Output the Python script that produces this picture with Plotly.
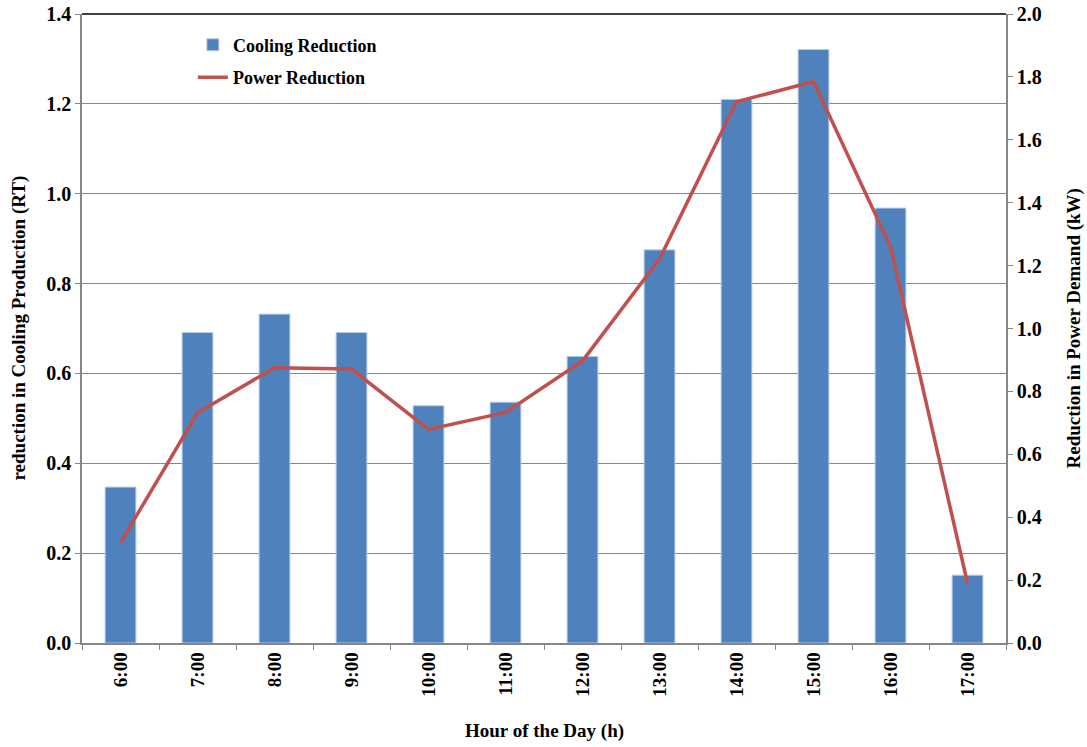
import plotly.graph_objects as go

hours = ["6:00", "7:00", "8:00", "9:00", "10:00", "11:00", "12:00",
         "13:00", "14:00", "15:00", "16:00", "17:00"]
cooling_reduction = [0.347, 0.691, 0.732, 0.691, 0.528, 0.536, 0.638,
                     0.875, 1.210, 1.321, 0.968, 0.151]
power_reduction = [0.319, 0.732, 0.875, 0.871, 0.679, 0.733, 0.897,
                   1.221, 1.721, 1.785, 1.260, 0.190]

FONT = "Liberation Serif"
AXIS_GRAY = "#868686"

fig = go.Figure()
fig.add_trace(go.Bar(
    x=hours, y=cooling_reduction, name="Cooling Reduction",
    marker=dict(color="#4F81BD", line=dict(color="#B9CDE5", width=1)),
    legendgroup="a", yaxis="y",
))
fig.add_trace(go.Scatter(
    x=hours, y=power_reduction, name="Power Reduction", mode="lines",
    line=dict(color="#C0504D", width=3.5),
    legendgroup="b", yaxis="y2",
))

ytickfont = dict(family=FONT, size=20, color="black", weight="bold")
xtickfont = dict(family=FONT, size=19, color="black", weight="bold")
titlefont = dict(family=FONT, size=19, color="black", weight="bold")

fig.update_layout(
    width=1087, height=747,
    margin=dict(l=82, r=81, t=14, b=104),
    paper_bgcolor="white", plot_bgcolor="white",
    bargap=0.6,
    showlegend=True,
    legend=dict(x=0.12, y=0.98, xanchor="left", yanchor="top",
                font=dict(family=FONT, size=18, color="black", weight="bold"),
                bgcolor="rgba(0,0,0,0)", tracegroupgap=6,
                traceorder="grouped"),
    xaxis=dict(
        type="category", tickangle=-90, tickfont=xtickfont,
        showline=True, linecolor=AXIS_GRAY, linewidth=1.5,
        ticks="outside", tickson="boundaries", ticklen=5, tickcolor=AXIS_GRAY,
        showgrid=False, automargin=False,
    ),
    yaxis=dict(
        range=[0, 1.4], dtick=0.2, tickformat=".1f", tickfont=ytickfont,
        showline=True, linecolor=AXIS_GRAY, linewidth=1.5,
        ticks="outside", ticklen=5, tickcolor=AXIS_GRAY,
        showgrid=True, gridcolor=AXIS_GRAY, gridwidth=1,
        zeroline=False, automargin=False,
    ),
    yaxis2=dict(
        range=[0, 2.0], dtick=0.2, tickformat=".1f", tickfont=ytickfont,
        overlaying="y", side="right",
        showline=True, linecolor=AXIS_GRAY, linewidth=1.5,
        ticks="outside", ticklen=5, tickcolor=AXIS_GRAY,
        showgrid=False, zeroline=False, automargin=False,
    ),
    shapes=[dict(type="line", xref="paper", yref="paper", x0=0, x1=1,
                 y0=1, y1=1, line=dict(color="black", width=1.5))],
    annotations=[
        dict(text="Hour of the Day (h)", xref="paper", yref="paper",
             x=0.5, y=0, yshift=-88, xanchor="center", yanchor="middle",
             showarrow=False, font=titlefont),
        dict(text="reduction in Cooling Production (RT)", xref="paper",
             yref="paper", x=0, xshift=-64, y=0.5, textangle=-90,
             xanchor="center", yanchor="middle", showarrow=False,
             font=titlefont),
        dict(text="Reduction in Power Demand (kW)", xref="paper",
             yref="paper", x=1, xshift=67, y=0.5, textangle=-90,
             xanchor="center", yanchor="middle", showarrow=False,
             font=titlefont),
    ],
)

fig.write_html("out.html")
